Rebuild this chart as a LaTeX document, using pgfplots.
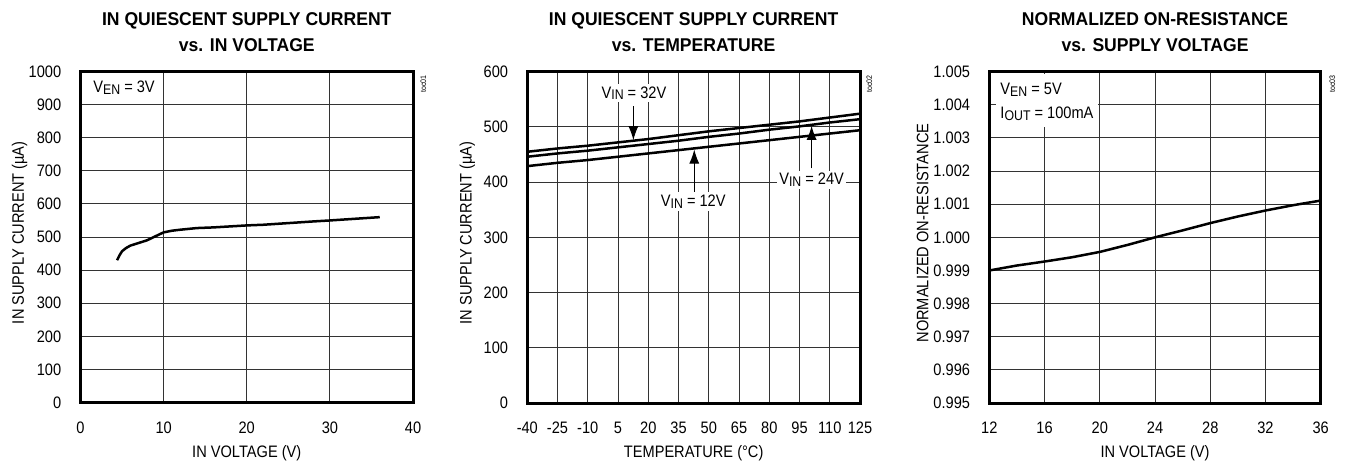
\documentclass[border=0pt]{standalone}
\usepackage{fontspec}
\setmainfont{Liberation Sans}[FakeStretch=0.88]
\newfontfamily\titlefont{Liberation Sans}[FakeStretch=0.95]
\usepackage{pgfplots}
\pgfplotsset{compat=1.18}
\usetikzlibrary{arrows.meta}

\newcommand\sub[1]{\raisebox{-0.9pt}{\fontsize{7}{8}\selectfont #1}}
\newcommand\tf{\fontsize{9.25}{11}\selectfont\titlefont\bfseries}

\pgfplotsset{
  maxim/.style={
    scale only axis, enlargelimits=false, clip=false,
    axis line style={line width=1.5pt},
    grid=major, major grid style={black!80, line width=0.5pt},
    major tick length=0pt,
    tick style={draw=none},
    ticklabel style={font=\fontsize{8.3}{10}\selectfont},
    xticklabel style={yshift=-6pt},
    yticklabel style={xshift=-6.1pt},
    label style={font=\fontsize{8.3}{10}\selectfont},
    xlabel style={at={(axis description cs:0.5,-0.1647)}, anchor=base},
    cycle list={{black, line width=1.25pt, no marks}},
    every axis plot post/.append style={black, line width=1.25pt, no marks},
  }
}

\pgfplotstableread{
x y
4.4 430
4.7 445
5.0 457
5.5 467
6.0 474
7.0 482
8.0 490
9.0 502
10.0 514
11.0 519
12.0 522
14.0 527
16.0 529
18.0 532
20.0 535
22.0 537
25.0 542
28.0 547
30.0 550
33.0 555
36.0 560
}\tabA

\pgfplotstableread{
t v32 v24 v12
-40 455 446 429
-25 461 452 435
-10 466 457 440
5 472 463 446
20 478 469 452
35 485 475 458
50 492 482 464
65 498 488 470
80 504 495 476
95 510 501 482
110 517 508 488
125 524 514 494
}\tabB

\pgfplotstableread{
x r
12 0.99900
14 0.99915
16 0.99927
18 0.99940
20 0.99956
22 0.99977
24 1.00000
26 1.00021
28 1.00043
30 1.00063
32 1.00081
34 1.00097
36 1.00111
}\tabC

\begin{document}
\begin{tikzpicture}
\useasboundingbox (0,0) rectangle (673.5pt,233pt);

% ---------- chart 1 ----------
\begin{axis}[maxim,
  at={(40.25pt,31.75pt)}, anchor=south west,
  width=166.25pt, height=165.5pt,
  xmin=0, xmax=40, ymin=0, ymax=1000,
  xtick={0,10,20,30,40}, xticklabels={0,10,20,30,40},
  ytick={0,100,...,1000}, yticklabels={0,100,200,300,400,500,600,700,800,900,1000},
  xlabel={IN VOLTAGE (V)},
  ylabel={IN SUPPLY CURRENT (µA)},
  ylabel style={at={(axis description cs:-0.17,0.513)}, anchor=base},
]
\addplot table[x=x,y=y] {\tabA};
\node[anchor=west, inner sep=0pt, font=\fontsize{8.3}{10}\selectfont] at (axis cs:1.5,950) {V\sub{EN} = 3V};
\end{axis}

% ---------- chart 2 ----------
\begin{axis}[maxim,
  at={(263.65pt,31.5pt)}, anchor=south west,
  width=166.35pt, height=165.65pt,
  xmin=-40, xmax=125, ymin=0, ymax=600,
  xtick={-40,-25,...,125}, xticklabels={-40,-25,-10,5,20,35,50,65,80,95,110,125},
  ytick={0,100,...,600}, yticklabels={0,100,200,300,400,500,600},
  xlabel={TEMPERATURE (°C)},
  ylabel={IN SUPPLY CURRENT (µA)},
  ylabel style={at={(axis description cs:-0.167,0.513)}, anchor=base},
]
\addplot table[x=t,y=v32] {\tabB};
\addplot table[x=t,y=v24] {\tabB};
\addplot table[x=t,y=v12] {\tabB};
\begin{scope}[font=\fontsize{8.3}{10}\selectfont]
\node[fill=white, inner sep=1.2pt] at (axis cs:12.9,561) {V\sub{IN} = 32V};
\node[fill=white, inner sep=1.2pt] at (axis cs:42.3,365) {V\sub{IN} = 12V};
\node[fill=white, inner sep=1.2pt] at (axis cs:101,404) {V\sub{IN} = 24V};
\end{scope}
\draw[-{Latex[length=7pt,width=5pt]}, line width=0.5pt] (axis cs:12.6,537) -- (axis cs:12.6,476);
\draw[-{Latex[length=7pt,width=5pt]}, line width=0.5pt] (axis cs:42.8,383) -- (axis cs:42.8,459);
\draw[-{Latex[length=7pt,width=5pt]}, line width=0.5pt] (axis cs:101,425) -- (axis cs:101,502);
\end{axis}

% ---------- chart 3 ----------
\begin{axis}[maxim,
  at={(494.65pt,31.5pt)}, anchor=south west,
  width=165.7pt, height=165.65pt,
  xmin=12, xmax=36, ymin=0.995, ymax=1.005,
  xtick={12,16,20,24,28,32,36}, xticklabels={12,16,20,24,28,32,36},
  ytick={0.995,0.996,0.997,0.998,0.999,1.000,1.001,1.002,1.003,1.004,1.005},
  yticklabels={0.995,0.996,0.997,0.998,0.999,1.000,1.001,1.002,1.003,1.004,1.005},
  scaled y ticks=false,
  xlabel={IN VOLTAGE (V)},
  ylabel={NORMALIZED ON-RESISTANCE},
  ylabel style={at={(axis description cs:-0.184,0.513)}, anchor=base},
]
\fill[white] (axis cs:12.5,1.00493) rectangle (axis cs:19.88,1.00333);
\addplot table[x=x,y=r] {\tabC};
\begin{scope}[font=\fontsize{8.3}{10}\selectfont]
\node[anchor=west, inner sep=0pt] at (axis cs:12.78,1.00445) {V\sub{EN} = 5V};
\node[anchor=west, inner sep=0pt] at (axis cs:12.78,1.00374) {I\sub{OUT} = 100mA};
\end{scope}
\end{axis}

% ---------- titles ----------
\node[font=\tf, anchor=base] at (123.4pt,220pt) {IN QUIESCENT SUPPLY CURRENT};
\node[font=\tf, anchor=base] at (123.4pt,207pt) {vs. IN VOLTAGE};
\node[font=\tf, anchor=base] at (346.8pt,220pt) {IN QUIESCENT SUPPLY CURRENT};
\node[font=\tf, anchor=base] at (346.8pt,207pt) {vs. TEMPERATURE};
\node[font=\tf, anchor=base] at (577.5pt,220pt) {NORMALIZED ON-RESISTANCE};
\node[font=\tf, anchor=base] at (577.5pt,207pt) {vs. SUPPLY VOLTAGE};

% ---------- figure ids ----------
\node[rotate=90, anchor=base east, inner sep=0pt, font=\fontsize{4}{5}\selectfont] at (213pt,195.5pt) {toc01};
\node[rotate=90, anchor=base east, inner sep=0pt, font=\fontsize{4}{5}\selectfont] at (436pt,195.5pt) {toc02};
\node[rotate=90, anchor=base east, inner sep=0pt, font=\fontsize{4}{5}\selectfont] at (667.5pt,195.5pt) {toc03};
\end{tikzpicture}
\end{document}
